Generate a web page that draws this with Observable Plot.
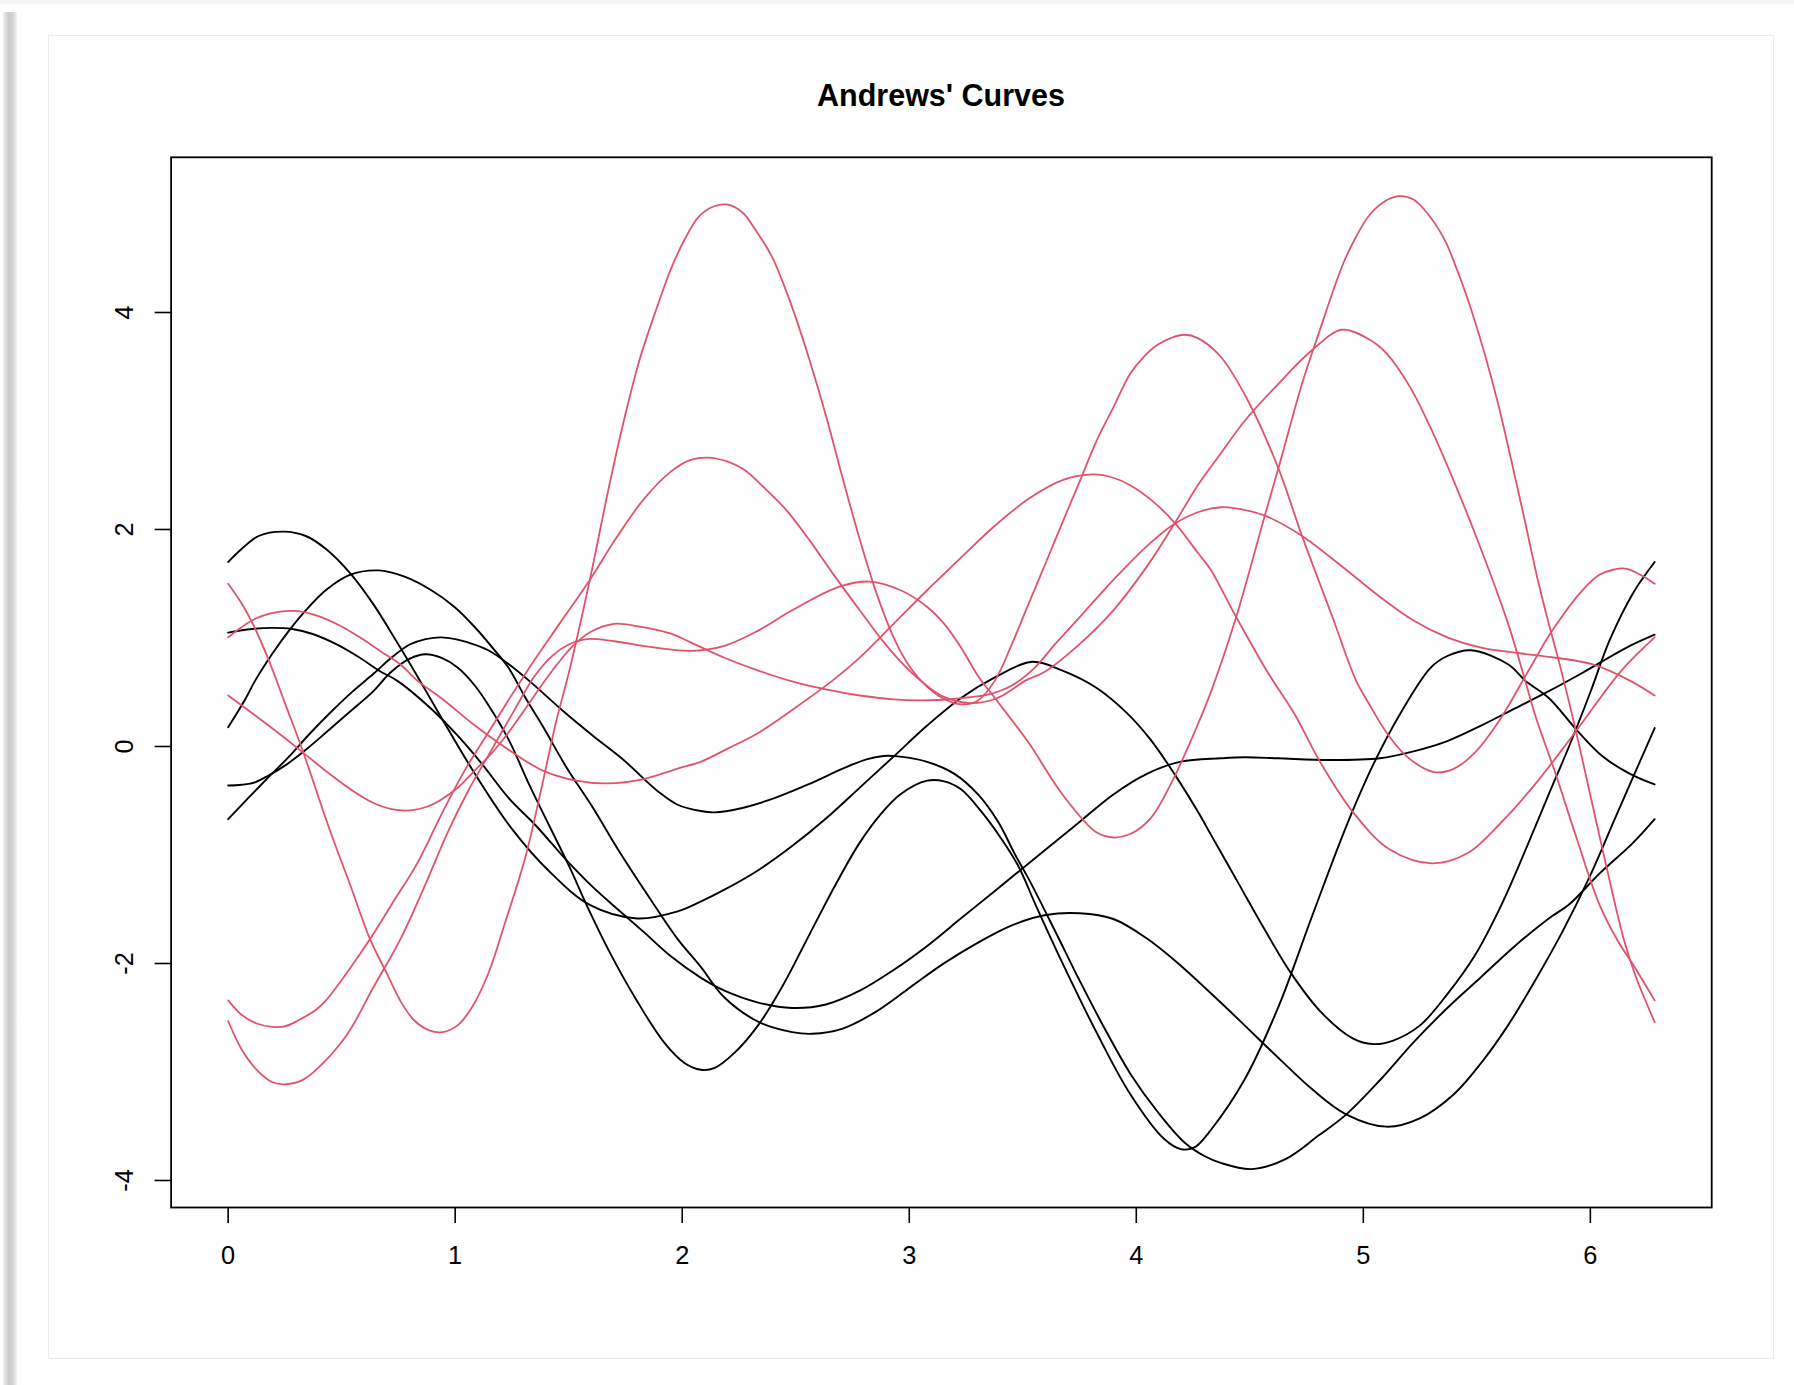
<!DOCTYPE html>
<html>
<head>
<meta charset="utf-8">
<script src="https://cdn.jsdelivr.net/npm/d3@7"></script>
<script src="https://cdn.jsdelivr.net/npm/@observablehq/plot@0.6"></script>
<style>
  html, body { margin: 0; padding: 0; background: #fff; }
  #page { position: relative; width: 1794px; height: 1385px; overflow: hidden; background: #fff; }
  #shadow { position: absolute; left: 3px; top: 12px; width: 14px; bottom: 0;
    background: linear-gradient(to right, #f2f2f2, #cbcbcb 40%, #d2d2d2 70%, #f4f4f4); }
  #topband { position: absolute; left: 0; top: 0; right: 0; height: 4px; background: #f5f5f5; }
  #frame { position: absolute; left: 48px; top: 35px; width: 1726px; height: 1324px;
    border: 1px solid #ebebeb; box-sizing: border-box; }
  #title { position: relative; z-index: 1; box-sizing: border-box; width: 1794px; height: 130px;
    padding-top: 80.2px; padding-left: 88px; text-align: center;
    font: bold 30.5px/30.5px "Liberation Sans", Arial, Helvetica, sans-serif; color: #000; }
  #chart { position: relative; z-index: 1; }
  #chart svg { display: block; }
</style>
</head>
<body>
<div id="page">
  <div id="shadow"></div>
  <div id="topband"></div>
  <div id="frame"></div>
  <div id="title">Andrews' Curves</div>
  <div id="chart"></div>
</div>
<script>
// ---- tick values and labels ----
const xTicks = [0, 1, 2, 3, 4, 5, 6];
const xTickLabels = ["0", "1", "2", "3", "4", "5", "6"];
const yTicks = [-4, -2, 0, 2, 4];
const yTickLabels = ["-4", "-2", "0", "2", "4"];

// ---- black group curves: [t, value] ----
const curveB1 = [[0,1.70],[0.059,1.82],[0.134,1.94],[0.245,1.98],[0.342,1.94],[0.431,1.82],[0.536,1.60],[0.64,1.31],[0.744,0.96],[0.841,0.62],[0.938,0.27],[1.087,-0.252],[1.25,-0.759],[1.414,-1.15],[1.593,-1.46],[1.802,-1.585],[1.98,-1.52],[2.081,-1.43],[2.186,-1.32],[2.335,-1.14],[2.484,-0.918],[2.633,-0.664],[2.782,-0.379],[2.931,-0.093],[3.079,0.193],[3.228,0.447],[3.377,0.637],[3.541,0.781],[3.675,0.70],[3.824,0.542],[3.958,0.31],[4.062,0.066],[4.167,-0.25],[4.271,-0.60],[4.328,-0.81],[4.447,-1.25],[4.566,-1.69],[4.685,-2.10],[4.819,-2.46],[4.953,-2.69],[5.043,-2.743],[5.132,-2.71],[5.251,-2.568],[5.37,-2.283],[5.489,-1.934],[5.609,-1.457],[5.728,-0.886],[5.817,-0.44],[5.906,0.0],[6.0,0.50],[6.085,0.98],[6.19,1.42],[6.2832,1.70]];
const curveB2 = [[0,1.05],[0.104,1.083],[0.193,1.093],[0.282,1.083],[0.372,1.037],[0.491,0.928],[0.58,0.818],[0.669,0.694],[0.744,0.607],[0.893,0.35],[1.012,0.097],[1.116,-0.156],[1.235,-0.474],[1.355,-0.728],[1.489,-1.045],[1.608,-1.299],[1.727,-1.521],[1.831,-1.711],[1.95,-1.934],[2.081,-2.13],[2.186,-2.25],[2.335,-2.36],[2.484,-2.41],[2.633,-2.378],[2.782,-2.251],[2.931,-2.06],[3.079,-1.838],[3.228,-1.584],[3.377,-1.331],[3.601,-0.95],[3.75,-0.696],[3.899,-0.442],[4.047,-0.252],[4.196,-0.14],[4.372,-0.109],[4.477,-0.099],[4.626,-0.109],[4.849,-0.125],[5.073,-0.109],[5.221,-0.045],[5.37,0.05],[5.519,0.193],[5.668,0.351],[5.817,0.51],[5.966,0.68],[6.16,0.912],[6.2832,1.03]];
const curveB3 = [[0,0.177],[0.074,0.431],[0.119,0.607],[0.193,0.85],[0.268,1.068],[0.342,1.255],[0.431,1.442],[0.536,1.582],[0.662,1.623],[0.774,1.567],[0.893,1.442],[0.997,1.286],[1.087,1.099],[1.176,0.881],[1.235,0.725],[1.31,0.447],[1.384,0.193],[1.489,-0.188],[1.608,-0.569],[1.727,-0.982],[1.876,-1.458],[1.98,-1.775],[2.081,-2.029],[2.186,-2.314],[2.335,-2.537],[2.484,-2.632],[2.573,-2.648],[2.707,-2.6],[2.856,-2.441],[3.005,-2.219],[3.154,-1.997],[3.303,-1.807],[3.452,-1.648],[3.601,-1.553],[3.75,-1.537],[3.899,-1.59],[4.047,-1.77],[4.196,-2.02],[4.372,-2.36],[4.477,-2.57],[4.626,-2.87],[4.775,-3.16],[4.924,-3.39],[5.102,-3.504],[5.251,-3.425],[5.4,-3.203],[5.519,-2.917],[5.638,-2.568],[5.757,-2.156],[5.876,-1.711],[5.996,-1.204],[6.115,-0.632],[6.2832,0.17]];
const curveB4 = [[0,-0.36],[0.059,-0.353],[0.118,-0.331],[0.178,-0.267],[0.253,-0.172],[0.342,-0.03],[0.431,0.129],[0.536,0.32],[0.64,0.51],[0.714,0.68],[0.80,0.81],[0.87,0.85],[0.938,0.818],[1.012,0.725],[1.087,0.56],[1.146,0.383],[1.235,0.066],[1.325,-0.347],[1.414,-0.728],[1.503,-1.108],[1.578,-1.457],[1.682,-1.902],[1.801,-2.346],[1.92,-2.727],[2.01,-2.917],[2.082,-2.98],[2.141,-2.965],[2.231,-2.822],[2.335,-2.568],[2.439,-2.219],[2.558,-1.743],[2.677,-1.267],[2.782,-0.886],[2.871,-0.632],[2.96,-0.442],[3.079,-0.315],[3.154,-0.321],[3.228,-0.394],[3.318,-0.601],[3.407,-0.855],[3.482,-1.108],[3.556,-1.457],[3.675,-1.997],[3.824,-2.632],[3.973,-3.203],[4.122,-3.616],[4.196,-3.711],[4.256,-3.695],[4.33,-3.53],[4.477,-3.07],[4.626,-2.40],[4.775,-1.56],[4.924,-0.74],[5.043,-0.17],[5.162,0.30],[5.296,0.725],[5.37,0.834],[5.474,0.887],[5.639,0.756],[5.713,0.607],[5.817,0.447],[5.936,0.161],[6.055,-0.093],[6.175,-0.252],[6.2832,-0.35]];
const curveB5 = [[0,-0.67],[0.089,-0.474],[0.178,-0.283],[0.268,-0.093],[0.357,0.113],[0.446,0.304],[0.55,0.51],[0.64,0.67],[0.72,0.82],[0.80,0.94],[0.87,0.99],[0.938,1.006],[1.0,0.99],[1.057,0.959],[1.146,0.887],[1.235,0.76],[1.325,0.607],[1.474,0.33],[1.608,0.097],[1.742,-0.125],[1.891,-0.41],[1.98,-0.537],[2.081,-0.595],[2.141,-0.607],[2.26,-0.569],[2.409,-0.474],[2.558,-0.347],[2.707,-0.204],[2.811,-0.118],[2.886,-0.087],[2.96,-0.093],[3.079,-0.141],[3.199,-0.252],[3.303,-0.442],[3.392,-0.696],[3.467,-1.0],[3.526,-1.22],[3.645,-1.712],[3.75,-2.156],[3.869,-2.632],[3.973,-3.013],[4.092,-3.362],[4.211,-3.647],[4.3,-3.774],[4.372,-3.838],[4.507,-3.895],[4.655,-3.806],[4.804,-3.584],[4.924,-3.393],[5.073,-3.076],[5.221,-2.727],[5.37,-2.41],[5.519,-2.124],[5.668,-1.838],[5.817,-1.585],[5.906,-1.457],[6.04,-1.172],[6.189,-0.886],[6.2832,-0.67]];

// ---- red group curves ----
const curveR1 = [[0,1.50],[0.059,1.32],[0.111,1.12],[0.178,0.80],[0.25,0.40],[0.327,-0.03],[0.446,-0.76],[0.536,-1.267],[0.625,-1.775],[0.699,-2.092],[0.759,-2.346],[0.818,-2.521],[0.885,-2.616],[0.945,-2.632],[1.012,-2.568],[1.072,-2.41],[1.146,-2.092],[1.221,-1.616],[1.31,-1.013],[1.384,-0.347],[1.444,0.224],[1.503,0.70],[1.593,1.535],[1.682,2.439],[1.757,3.125],[1.816,3.592],[1.891,4.06],[1.95,4.40],[2.01,4.67],[2.074,4.885],[2.141,4.979],[2.201,4.994],[2.268,4.917],[2.32,4.77],[2.394,4.52],[2.439,4.30],[2.499,3.96],[2.558,3.58],[2.633,3.05],[2.707,2.47],[2.782,1.909],[2.856,1.411],[2.931,1.006],[3.005,0.725],[3.079,0.55],[3.146,0.447],[3.22,0.39],[3.30,0.42],[3.377,0.607],[3.452,0.943],[3.526,1.317],[3.601,1.691],[3.675,2.065],[3.75,2.439],[3.824,2.813],[3.899,3.125],[3.973,3.436],[4.033,3.592],[4.092,3.701],[4.152,3.764],[4.211,3.795],[4.271,3.764],[4.372,3.592],[4.492,3.187],[4.626,2.564],[4.73,1.941],[4.864,1.193],[4.968,0.607],[5.028,0.383],[5.102,0.129],[5.192,-0.093],[5.311,-0.236],[5.4,-0.204],[5.489,-0.061],[5.594,0.224],[5.728,0.70],[5.832,1.068],[5.966,1.442],[6.04,1.582],[6.1,1.629],[6.16,1.638],[6.234,1.567],[6.2832,1.50]];
const curveR2 = [[0,1.006],[0.059,1.099],[0.119,1.177],[0.193,1.23],[0.297,1.249],[0.387,1.208],[0.491,1.115],[0.58,1.006],[0.669,0.881],[0.759,0.756],[0.833,0.607],[0.938,0.447],[1.087,0.193],[1.235,-0.029],[1.384,-0.22],[1.533,-0.315],[1.667,-0.34],[1.831,-0.3],[1.98,-0.204],[2.081,-0.141],[2.2,-0.02],[2.335,0.125],[2.5,0.36],[2.662,0.607],[2.782,0.819],[2.931,1.13],[3.079,1.44],[3.228,1.74],[3.377,2.034],[3.526,2.283],[3.675,2.455],[3.809,2.508],[3.899,2.477],[3.973,2.408],[4.077,2.252],[4.174,2.05],[4.271,1.785],[4.328,1.629],[4.432,1.224],[4.574,0.70],[4.70,0.288],[4.805,-0.125],[4.953,-0.601],[5.117,-0.95],[5.303,-1.077],[5.46,-0.982],[5.609,-0.696],[5.757,-0.347],[5.921,0.097],[6.137,0.70],[6.2832,1.006]];
const curveR3 = [[0,0.47],[0.118,0.288],[0.238,0.097],[0.342,-0.077],[0.446,-0.252],[0.55,-0.41],[0.64,-0.521],[0.714,-0.575],[0.77,-0.59],[0.819,-0.585],[0.878,-0.553],[0.938,-0.49],[1.012,-0.378],[1.087,-0.22],[1.161,-0.061],[1.235,0.129],[1.31,0.351],[1.384,0.574],[1.45,0.76],[1.52,0.93],[1.6,1.06],[1.70,1.13],[1.8,1.11],[1.95,1.04],[2.037,0.96],[2.186,0.818],[2.335,0.70],[2.484,0.60],[2.633,0.526],[2.782,0.47],[2.931,0.435],[3.05,0.425],[3.146,0.431],[3.25,0.45],[3.35,0.48],[3.45,0.56],[3.55,0.72],[3.645,0.95],[3.75,1.19],[3.899,1.535],[4.047,1.847],[4.167,2.05],[4.271,2.159],[4.372,2.205],[4.432,2.196],[4.566,2.127],[4.73,1.941],[4.924,1.629],[5.073,1.38],[5.221,1.161],[5.37,1.006],[5.519,0.912],[5.668,0.865],[5.847,0.818],[6.011,0.756],[6.174,0.607],[6.2832,0.47]];
const curveR4 = [[0,-2.34],[0.059,-2.473],[0.126,-2.553],[0.193,-2.584],[0.253,-2.578],[0.312,-2.521],[0.387,-2.426],[0.431,-2.34],[0.521,-2.092],[0.625,-1.775],[0.729,-1.426],[0.833,-1.077],[0.938,-0.632],[1.042,-0.22],[1.146,0.129],[1.25,0.478],[1.35,0.80],[1.459,1.13],[1.593,1.535],[1.712,1.93],[1.831,2.28],[1.95,2.533],[2.037,2.641],[2.111,2.663],[2.201,2.626],[2.275,2.548],[2.365,2.377],[2.454,2.19],[2.558,1.909],[2.662,1.598],[2.782,1.255],[2.871,1.006],[2.96,0.787],[3.05,0.607],[3.15,0.46],[3.27,0.40],[3.38,0.44],[3.45,0.52],[3.511,0.607],[3.601,0.694],[3.75,0.943],[3.899,1.255],[4.047,1.66],[4.167,2.05],[4.271,2.408],[4.372,2.70],[4.477,3.0],[4.626,3.343],[4.775,3.654],[4.906,3.841],[5.028,3.748],[5.102,3.623],[5.206,3.312],[5.296,2.938],[5.4,2.439],[5.519,1.816],[5.638,1.13],[5.713,0.607],[5.757,0.288],[5.847,-0.252],[5.936,-0.823],[6.04,-1.457],[6.12,-1.788],[6.194,-2.03],[6.2832,-2.34]];
const curveR5 = [[0,-2.53],[0.059,-2.79],[0.126,-2.98],[0.193,-3.092],[0.253,-3.114],[0.32,-3.082],[0.387,-2.98],[0.521,-2.663],[0.64,-2.219],[0.759,-1.775],[0.863,-1.299],[0.967,-0.791],[1.057,-0.41],[1.161,-0.029],[1.265,0.351],[1.35,0.65],[1.43,0.84],[1.50,0.94],[1.58,0.99],[1.7,0.97],[1.85,0.92],[2.037,0.881],[2.186,0.928],[2.335,1.068],[2.484,1.255],[2.692,1.473],[2.826,1.52],[2.96,1.442],[3.079,1.286],[3.154,1.13],[3.228,0.912],[3.303,0.65],[3.377,0.447],[3.526,0.034],[3.675,-0.442],[3.824,-0.791],[3.899,-0.839],[3.973,-0.807],[4.062,-0.664],[4.152,-0.347],[4.256,0.129],[4.33,0.51],[4.44,1.193],[4.566,2.127],[4.626,2.564],[4.73,3.343],[4.804,3.81],[4.908,4.433],[4.968,4.698],[5.028,4.901],[5.095,5.026],[5.157,5.072],[5.221,5.041],[5.281,4.917],[5.355,4.683],[5.4,4.465],[5.46,4.122],[5.534,3.623],[5.594,3.156],[5.653,2.626],[5.713,2.065],[5.772,1.504],[5.817,1.13],[5.862,0.78],[5.93,0.2],[6.0,-0.45],[6.07,-1.1],[6.149,-1.79],[6.2,-2.12],[6.2832,-2.54]];

// ---- groups ----
const groupNames = ["group1", "group2"];
const groupColors = ["#000000", "#DF536B"];
const blackCurves = [curveB1, curveB2, curveB3, curveB4, curveB5];
const redCurves = [curveR1, curveR2, curveR3, curveR4, curveR5];

function toRows(curves, group) {
  const rows = [];
  curves.forEach((c, i) => c.forEach(([t, v]) => rows.push({id: group + "-" + i, group, t, v})));
  return rows;
}
const blackRows = toRows(blackCurves, groupNames[0]);
const redRows = toRows(redCurves, groupNames[1]);

const chart = Plot.plot({
  width: 1794,
  height: 1255,
  marginTop: 26.8,
  marginBottom: 178,
  marginLeft: 170.6,
  marginRight: 82.8,
  style: {
    background: "transparent",
    fontFamily: "'Liberation Sans', Arial, Helvetica, sans-serif",
    fontSize: "25.4px",
    color: "#000",
    overflow: "visible"
  },
  x: {domain: [-0.2513, 6.5345], label: null},
  y: {domain: [-4.249, 5.4304], label: null},
  marks: [
    Plot.line(blackRows, {x: "t", y: "v", z: "id", stroke: groupColors[0], strokeWidth: 1.9, curve: "catmull-rom"}),
    Plot.line(redRows, {x: "t", y: "v", z: "id", stroke: groupColors[1], strokeWidth: 1.8, curve: "catmull-rom"}),
    Plot.frame({stroke: "#000", strokeWidth: 1.8}),
    Plot.axisX(xTicks, {
      anchor: "bottom", tickSize: 16, tickPadding: 22, strokeWidth: 1.6,
      tickFormat: d => xTickLabels[xTicks.indexOf(d)], fontSize: "25.4px", label: null
    }),
    Plot.axisY(yTicks, {
      anchor: "left", tickSize: 16, tickPadding: 22, tickRotate: -90, strokeWidth: 1.6,
      tickFormat: d => yTickLabels[yTicks.indexOf(d)], fontSize: "25.4px", label: null
    })
  ]
});
document.getElementById("chart").append(chart);
</script>
</body>
</html>
